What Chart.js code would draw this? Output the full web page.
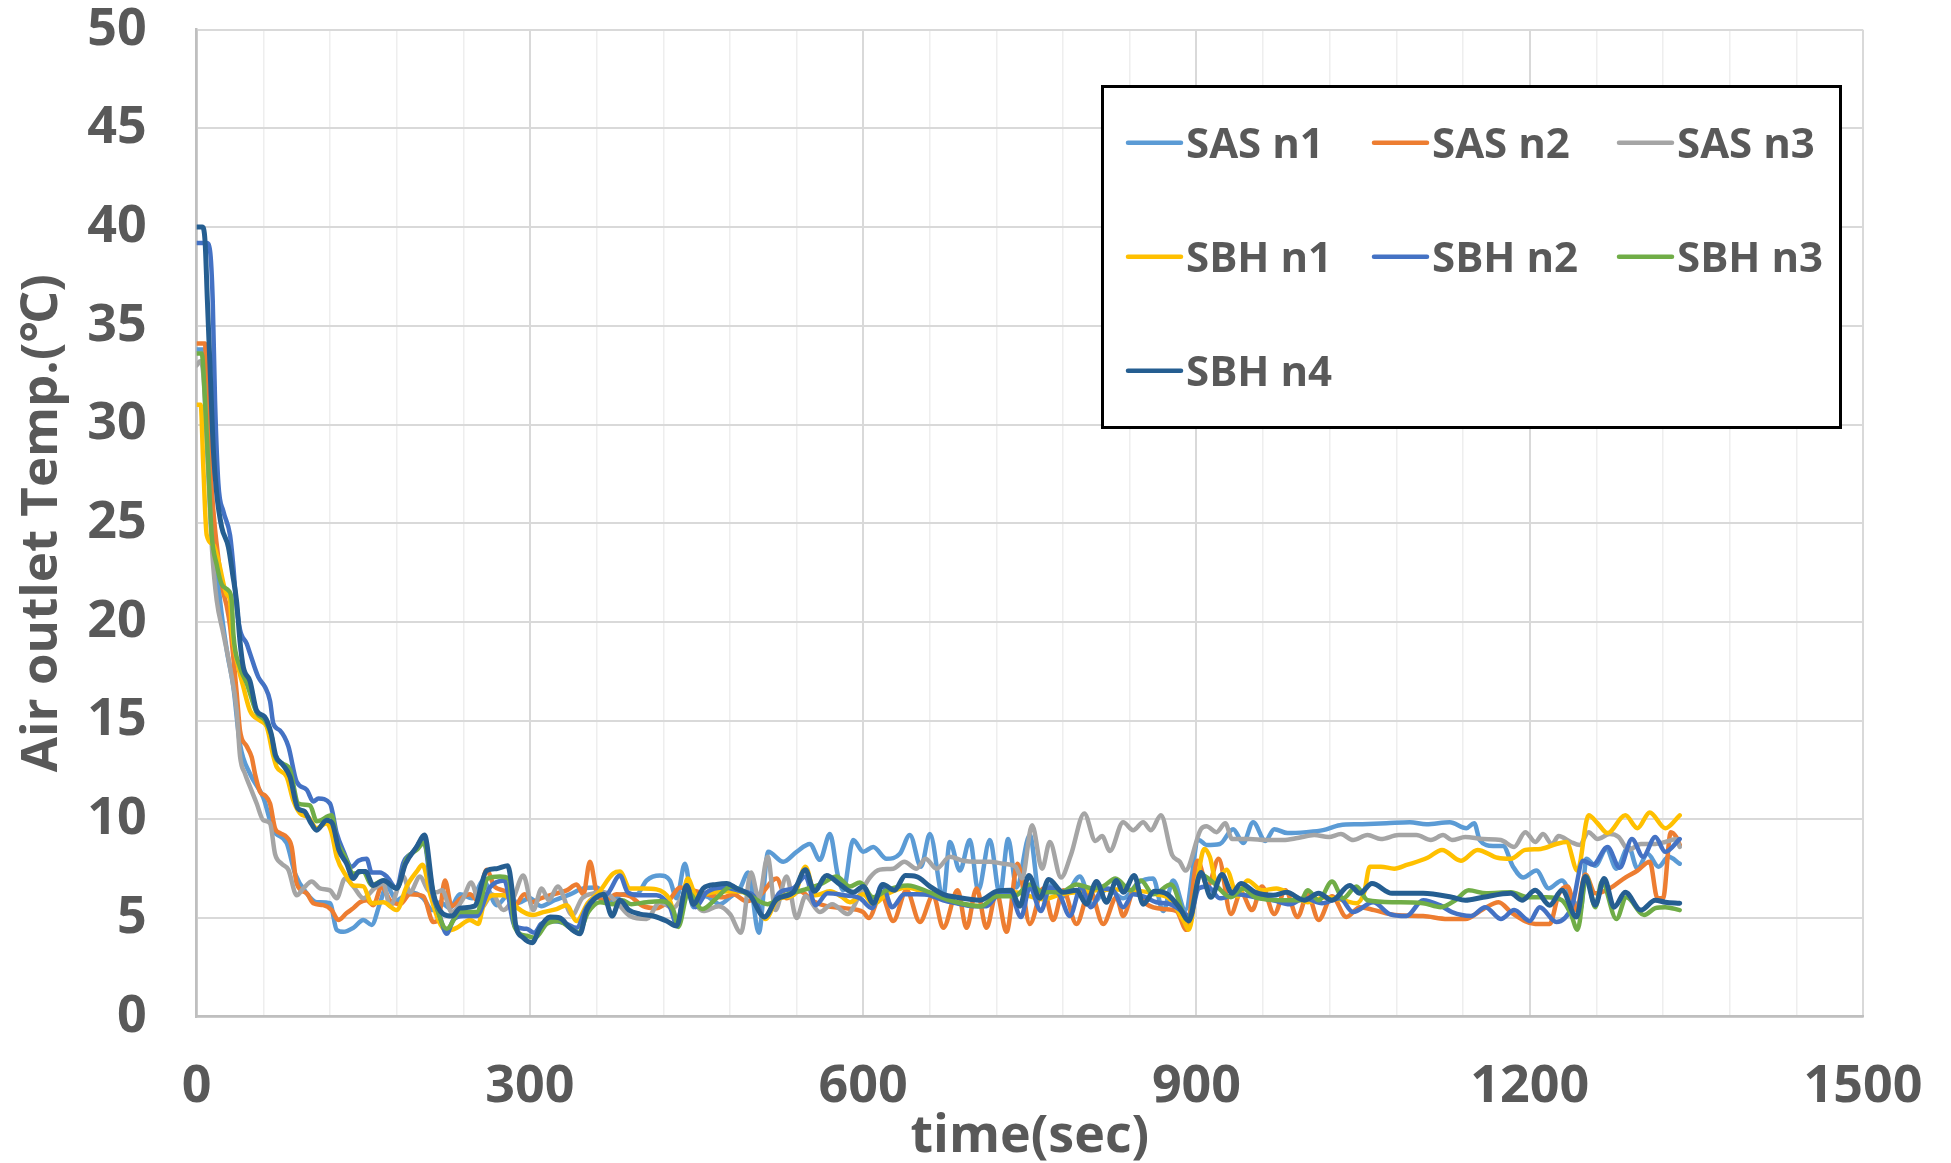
<!DOCTYPE html>
<html>
<head>
<meta charset="utf-8">
<script src="https://cdn.jsdelivr.net/npm/chart.js@4.4.1/dist/chart.umd.min.js"></script>
<style>
  html, body { margin: 0; padding: 0; background: #ffffff; }
  #wrap { width: 1951px; height: 1163px; position: relative; }
</style>
</head>
<body>
<div id="wrap"><canvas id="c" width="1951" height="1163"></canvas></div>
<script>
// ---------------- DATA ----------------
const seriesNames = ['SAS n1', 'SAS n2', 'SAS n3', 'SBH n1', 'SBH n2', 'SBH n3', 'SBH n4'];
const xTickLabels = [0, 300, 600, 900, 1200, 1500];
const yTickLabels = [0, 5, 10, 15, 20, 25, 30, 35, 40, 45, 50];

// [time (sec), temperature (°C)]
const sasN1 = [[0,33.8],[6,33.8],[9,31],[13,27],[17,23.5],[21,21.1],[27,18.6],[33,16.7],[39,13.8],[48,12.3],[60,11.1],[69,9.45],[81,8.8],[88.5,7.25],[99,6.25],[108,5.8],[120,5.75],[126,4.4],[132,4.3],[141,4.5],[150,4.9],[157.5,4.65],[165,5.75],[171,6.6],[180,5.9],[192,6.3],[204,6.0],[212,5.4],[219,5.8],[228,5.5],[237,6.2],[248,6.0],[258,6.9],[270,5.65],[282,6.25],[288,5.75],[300,6.0],[310,5.6],[322,5.9],[336,6.2],[348,6.5],[360,6.55],[372,5.9],[384,6.2],[396,6.2],[405,6.9],[417,7.15],[426,6.9],[432,6.0],[439.5,7.75],[447,5.55],[458,6.1],[471,5.7],[480,6.05],[489,6.5],[496.5,7.3],[506,4.25],[514.5,8.35],[528,7.85],[540,8.35],[552,8.75],[561,7.95],[570,9.25],[577,7.2],[582,6.4],[591,8.95],[600,8.35],[609,8.6],[621,8.0],[633,8.25],[642,9.2],[652,7.6],[660,9.25],[672,6.05],[678,8.85],[687,7.4],[696,8.95],[703.5,6.4],[714,8.95],[723,6.2],[730.5,9.0],[738,6.55],[750,9.2],[759,6.05],[770,6.7],[781,6.1],[795,7.1],[806,5.7],[820,6.5],[834,6.0],[848,6.8],[861,7.0],[870,5.35],[879,6.9],[890,5.4],[902,8.95],[909,8.7],[921,8.75],[933,9.5],[942,8.8],[951,9.85],[962,8.9],[970,9.5],[982,9.3],[999,9.35],[1014,9.45],[1029,9.7],[1047,9.75],[1071,9.8],[1092,9.85],[1107,9.75],[1128,9.85],[1143,9.55],[1150,9.8],[1155,8.95],[1167,8.65],[1176,8.65],[1185,7.6],[1194,7.05],[1206,7.4],[1217,6.5],[1229,6.9],[1239,5.9],[1246,5.5],[1251,8.0],[1259,7.65],[1269,8.5],[1278,7.5],[1289,8.6],[1297,7.5],[1306,8.25],[1316,7.6],[1325,8.1],[1335,7.75]];

const sasN2 = [[0,34.1],[7.5,34.1],[9,32],[12,28],[16,25],[20,23],[24,21.5],[27,20.8],[30,19.8],[36,16.4],[39,14.5],[45,13.7],[49.5,13.15],[52.5,12.3],[57,11.4],[61.5,11.2],[66,10.8],[70.5,9.55],[75,9.3],[81,9.1],[85.5,8.6],[90,6.75],[99,6.25],[105,5.75],[114,5.65],[121.5,5.4],[127.5,4.9],[135,5.25],[141,5.5],[147,5.8],[153,5.9],[159,5.65],[166.5,6.6],[174,5.9],[183,5.7],[192,6.2],[204,6.1],[213,4.8],[217.5,4.9],[223.5,6.9],[229.5,5.6],[238,6.0],[246,6.2],[253,5.9],[261,7.45],[268,6.6],[279,6.3],[286,5.6],[295,6.2],[302,5.8],[310,6.0],[321,6.2],[333,6.4],[342,6.7],[348,6.2],[354,7.85],[360,6.3],[368,5.9],[378,6.2],[390,6.1],[402,5.6],[414,5.5],[426,5.95],[435,6.55],[447,6.4],[459,6.2],[474,6.05],[483,6.2],[495,5.85],[507,6.15],[522,7.0],[531,6.0],[543,6.35],[555,5.85],[567,5.6],[583,5.5],[600,5.3],[605,5.0],[616,6.2],[627,4.85],[639,6.4],[651,4.8],[663,6.15],[672,4.5],[685,6.4],[693,4.5],[702,6.5],[711,4.5],[720,6.3],[729,4.3],[739,7.75],[750,4.7],[762,6.5],[771,4.9],[780,6.4],[792,4.7],[804,6.4],[816,4.7],[828,6.05],[834,5.1],[844,6.4],[855,5.7],[870,5.45],[882,5.35],[891,4.4],[901,7.9],[910,6.6],[920,8.0],[931,5.2],[940,6.3],[950,5.4],[959,6.6],[970,5.2],[980,6.4],[991,5.05],[1000,6.2],[1010,4.9],[1022,6.1],[1035,5.05],[1047,5.55],[1060,5.4],[1079,5.15],[1104,5.1],[1126,4.95],[1142,4.95],[1158,5.45],[1172,5.8],[1184,5.25],[1205,4.7],[1218,4.7],[1226,6.2],[1234,6.6],[1242,5.4],[1250,7.2],[1259,6.25],[1272,6.5],[1286,7.05],[1297,7.4],[1308,7.85],[1315,6.0],[1320,6.0],[1327,9.35],[1332,9.1],[1335,8.7]];

const sasN3 = [[0,33.0],[3,33.2],[6,32.5],[10,28],[14,23.5],[18,21.1],[24,19.4],[30,17.7],[36,15.5],[39,13.2],[43.5,12.3],[48,11.65],[54,10.8],[60,9.95],[66,9.8],[70.5,8.25],[76.5,7.75],[82.5,7.45],[90,6.15],[96,6.5],[103.5,6.85],[111,6.5],[120,6.4],[126,6.0],[133.5,7.0],[141,6.6],[150,6.0],[160,6.5],[168,6.75],[174,5.6],[186,7.1],[192,6.3],[201,7.1],[208.5,6.4],[216,6.3],[221,6.4],[229.5,5.3],[240,6.0],[247,6.8],[256,5.5],[266,6.2],[276,5.4],[285,6.0],[294,7.15],[303,5.4],[310.5,6.5],[317,5.9],[325,6.6],[338,5.15],[347,6.0],[357,6.25],[367,6.3],[378,5.8],[390,5.1],[405,4.95],[417,5.8],[429,5.5],[440,6.2],[456,5.35],[470,5.6],[480,5.2],[490,4.25],[499,7.3],[506,6.0],[514,8.1],[521,5.4],[531,7.1],[540,5.0],[548,6.1],[561,5.3],[572,5.7],[586,5.2],[597,6.2],[606,7.05],[615,7.45],[627,7.5],[637,7.85],[648,7.5],[656,8.0],[666,7.5],[678,8.1],[690,7.9],[702,7.85],[714,7.85],[726,7.75],[737,7.6],[743,7.0],[752,9.7],[761,7.5],[768,8.85],[778,7.05],[787,8.2],[799,10.3],[809,8.9],[815,9.15],[822,8.4],[834,9.85],[843,9.45],[852,9.85],[859,9.45],[868,10.2],[878,8.2],[885,7.85],[890,7.4],[904,9.5],[909,9.65],[918,9.35],[926,9.8],[932,9.0],[948,9.0],[962,8.95],[978,8.95],[991,9.05],[1006,9.2],[1019,9.1],[1030,9.25],[1041,8.95],[1054,9.2],[1066,9.0],[1082,9.2],[1098,9.2],[1111,8.95],[1122,9.2],[1130,8.95],[1142,9.1],[1158,9.0],[1174,8.95],[1186,8.6],[1196,9.35],[1205,8.85],[1212,9.25],[1220,8.75],[1226,9.15],[1237,8.85],[1245,8.7],[1253,9.35],[1261,9.0],[1272,9.25],[1280,9.1],[1289,8.45],[1300,8.75],[1313,8.75],[1322,8.85],[1332,9.0],[1335,8.6]];

const sbhN1 = [[0,31],[3.6,31],[6,27.8],[9,24.4],[15,23.9],[19.5,23.1],[27,21.4],[30,21.1],[31.5,19.7],[37.5,17.7],[42,16.7],[48,15.5],[57,15.0],[63,14.7],[69,13.2],[72,12.65],[81,12.15],[87,10.95],[93,10.3],[100.5,10.1],[108,9.55],[117,9.8],[121.5,9.3],[126,8.1],[135,7.1],[141,6.65],[150,6.6],[157.5,5.75],[168,5.8],[180,5.4],[189,6.6],[198,7.35],[203.4,7.7],[210,6.25],[217.5,4.9],[225,4.35],[234,4.5],[246,4.9],[253.5,4.7],[258,5.6],[267,6.15],[276,6.15],[282,5.95],[289,5.5],[303,5.15],[312,5.3],[324,5.45],[333,5.65],[342,4.85],[352,5.75],[362,6.3],[375,7.25],[381,7.35],[390,6.5],[402,6.5],[414,6.45],[425,6.0],[433,4.85],[442,7.0],[450,6.1],[465,6.3],[482,6.35],[500,6.15],[512,4.95],[523,5.95],[538,6.2],[548,7.6],[557,6.15],[570,6.35],[580,6.1],[588,5.8],[600,6.2],[609,5.7],[621,6.2],[639,6.55],[660,6.2],[690,5.7],[708,5.6],[720,6.2],[736,6.3],[762,5.95],[778,6.2],[810,6.4],[828,6.45],[846,6.4],[864,6.2],[876,5.95],[889,4.8],[893,4.4],[901,7.0],[907,8.5],[912,8.1],[918,6.8],[927,7.45],[937,6.1],[946,6.9],[959,6.4],[972,6.5],[984,6.25],[1000,5.8],[1016,6.05],[1032,5.9],[1044,5.75],[1051,6.3],[1056,7.6],[1066,7.6],[1078,7.5],[1090,7.7],[1108,8.05],[1121,8.45],[1138,7.9],[1153,8.45],[1171,8.05],[1183,8.0],[1196,8.45],[1210,8.5],[1224,8.75],[1233,8.85],[1243,7.4],[1253,10.2],[1261,9.8],[1270,9.3],[1286,10.2],[1297,9.55],[1308,10.35],[1322,9.55],[1335,10.2]];

const sbhN2 = [[0,39.2],[9,39.2],[12,38.8],[14.4,36.3],[16.5,31.2],[19.5,27],[24,25.6],[30,24.4],[33,22.8],[35.4,21.1],[39,19.6],[45,18.9],[48,18.4],[55.5,17.2],[61.5,16.7],[66,16.0],[69,14.85],[75,14.5],[82.5,13.7],[90,11.9],[99,11.5],[105,10.9],[109.5,11.05],[120,10.8],[126,9.3],[132,8.4],[139.5,7.6],[145.5,7.9],[153,8.0],[157.5,7.3],[165,7.3],[171,7.1],[180,6.5],[186,7.8],[195,8.35],[204,9.0],[211.5,6.4],[219,5.06],[225,4.2],[231,4.9],[240,5.1],[252,5.1],[264,6.55],[277,6.9],[286,4.6],[297,4.45],[304,4.25],[310,4.7],[321,4.85],[333,4.7],[342,4.5],[351,5.55],[363,6.15],[369,6.2],[381,7.15],[388,6.3],[399,6.15],[414,6.15],[426,5.55],[432,4.7],[441,6.65],[449,5.55],[459,6.3],[475,6.55],[490,6.35],[501,6.15],[511,5.05],[525,6.3],[537,6.5],[548,7.1],[557,5.65],[568,6.25],[583,6.15],[597,6.0],[608,5.5],[617,6.7],[626,5.55],[637,6.2],[648,6.2],[660,6.15],[672,5.9],[684,5.75],[699,5.6],[711,5.6],[720,6.1],[732,6.3],[742,5.05],[750,6.55],[760,5.35],[768,6.55],[777,6.15],[786,5.1],[796,6.55],[805,5.55],[816,6.5],[825,6.4],[834,5.55],[843,6.2],[852,6.1],[864,5.8],[876,5.7],[888,5.3],[894,5.05],[902,6.5],[910,6.6],[921,6.0],[937,6.2],[953,6.05],[969,5.9],[984,5.7],[997,6.0],[1013,5.75],[1029,6.0],[1041,5.3],[1059,5.8],[1074,5.2],[1089,5.1],[1104,5.9],[1119,5.65],[1130,5.3],[1147,5.1],[1160,5.55],[1174,4.95],[1186,5.4],[1200,4.85],[1209,5.55],[1224,4.8],[1238,5.6],[1248,7.9],[1257,7.7],[1270,8.6],[1281,7.55],[1292,9.0],[1302,8.1],[1313,9.1],[1322,8.35],[1335,9.0]];

const sbhN3 = [[0,33.6],[4.5,33.6],[7.5,31.2],[10.5,27.8],[13.5,24.4],[18,22.9],[22.5,21.9],[28.5,21.6],[31.5,21.1],[33,19.4],[39,17.7],[45,16.9],[54,15.4],[61.5,15.0],[67.5,14.2],[70.5,13.2],[78,12.8],[84,12.5],[91.5,10.8],[102,10.7],[108,9.9],[121.5,10.2],[126,8.95],[133.5,8.1],[141,7.25],[150,7.35],[157.5,6.65],[168,6.9],[180,6.5],[189,8.0],[198,8.45],[204.6,8.8],[213,6.25],[225,4.45],[237,5.3],[252,5.3],[262,7.0],[273,7.1],[280.5,7.0],[286.5,4.5],[297,4.1],[304.5,4.0],[315,4.7],[325.5,4.85],[336,4.5],[343.5,4.25],[352.5,5.3],[363,5.8],[375,5.7],[383,5.9],[391,5.7],[405,5.8],[417,5.85],[429,5.4],[433.5,4.55],[442.5,6.3],[455,5.45],[467,5.95],[481,6.6],[496,6.2],[514,5.7],[527,6.1],[548,6.45],[563,6.75],[576,7.1],[588,6.6],[597,6.8],[609,6.05],[621,6.4],[640,6.65],[660,6.3],[675,5.95],[692,5.7],[706,5.6],[720,6.1],[736,6.1],[750,6.7],[762,6.3],[778,6.3],[792,6.7],[806,6.5],[816,6.6],[827,7.0],[841,6.4],[850,6.9],[861,6.2],[877,6.7],[892,4.9],[904,7.2],[915,6.8],[931,6.05],[942,6.5],[953,6.05],[978,5.9],[994,5.9],[1000,6.4],[1010,5.9],[1022,6.85],[1032,6.0],[1044,6.6],[1054,5.9],[1079,5.8],[1104,5.75],[1120,5.55],[1133,5.9],[1145,6.4],[1161,6.25],[1183,6.3],[1199,6.05],[1215,6.05],[1229,5.9],[1237,5.2],[1243,4.4],[1251,7.1],[1259,5.55],[1265,6.85],[1278,4.95],[1287,6.05],[1303,5.15],[1313,5.5],[1322,5.55],[1335,5.4]];

const sbhN4 = [[0,40],[5,40],[7.5,39.3],[9.6,36.3],[12,32.9],[15,28.7],[18,26.5],[22.5,24.8],[28.5,23.8],[32.4,22.4],[36,21],[39,19],[42,17.7],[48,17.0],[54,15.5],[61,15.2],[67,14.35],[71,13.25],[77,12.8],[84,12.15],[91,10.55],[97,10.4],[102,9.9],[108,9.45],[117,9.95],[122,9.8],[128,8.45],[135,7.75],[141,7.0],[146,7.35],[152,7.35],[159,6.65],[168,6.9],[180,6.5],[188,7.75],[198,8.6],[205,9.2],[213,6.25],[222,5.2],[230,5.1],[237,5.5],[250,5.6],[261,7.4],[270,7.5],[280,7.65],[284,6.4],[287,4.7],[294,4.0],[302,3.75],[309,4.5],[318,5.05],[327,5.0],[336,4.5],[345,4.2],[351,5.4],[360,6.05],[366,6.2],[374,5.1],[381,5.9],[389,5.4],[399,5.2],[411,5.1],[423,4.85],[432,4.6],[441,6.65],[447,5.7],[456,6.5],[468,6.7],[477,6.75],[486,6.5],[498,6.15],[511,5.05],[522,5.95],[537,6.3],[548,7.45],[556,6.35],[567,7.15],[579,6.7],[591,6.3],[600,6.6],[609,5.75],[618,6.7],[628,6.4],[638,7.15],[648,7.1],[660,6.6],[672,6.2],[684,6.05],[705,5.9],[720,6.35],[733,6.4],[741,5.6],[749,7.15],[759,6.0],[767,6.95],[780,6.3],[792,6.4],[801,5.7],[810,6.85],[819,5.8],[828,6.9],[834,6.3],[844,7.15],[852,5.7],[862,6.35],[874,6.2],[885,5.5],[893,4.85],[904,7.3],[913,6.05],[923,7.2],[932,6.25],[940,6.75],[953,6.3],[969,6.15],[981,6.3],[997,5.9],[1010,6.25],[1022,5.9],[1038,6.65],[1047,6.25],[1058,6.75],[1076,6.25],[1104,6.25],[1130,6.05],[1142,5.9],[1158,6.05],[1183,6.25],[1193,5.9],[1205,6.4],[1218,5.65],[1229,6.4],[1242,5.05],[1250,7.1],[1259,5.65],[1267,7.0],[1276,5.55],[1286,6.3],[1300,5.4],[1313,5.9],[1322,5.8],[1335,5.75]];

const seriesData = [sasN1, sasN2, sasN3, sbhN1, sbhN2, sbhN3, sbhN4];

// ---------------- STYLE ----------------
const seriesColors = ['#5b9bd5', '#ed7d31', '#a5a5a5', '#ffc000', '#4472c4', '#70ad47', '#255e91'];
const FONT = "'Open Sans', 'Noto Sans', 'Noto Sans CJK JP', sans-serif";
const TEXT = '#595959';

const overlay = {
  id: 'overlay',
  afterDraw(chart) {
    const ctx = chart.ctx;
    const area = chart.chartArea;
    ctx.save();
    // legend box
    const bx = 1102, by = 86, bw = 738, bh = 341;
    ctx.fillStyle = '#ffffff';
    ctx.fillRect(bx, by, bw, bh);
    ctx.lineWidth = 3;
    ctx.strokeStyle = '#000000';
    ctx.strokeRect(bx + 0.5, by + 0.5, bw, bh);
    const colX = [1128, 1374, 1619];
    const rowY = [142.7, 256.7, 370.7];
    ctx.font = 'bold 42px ' + FONT;
    ctx.textBaseline = 'alphabetic';
    ctx.textAlign = 'left';
    seriesNames.forEach((name, i) => {
      const c = i % 3, r = Math.floor(i / 3);
      const x = colX[c], y = rowY[r];
      ctx.strokeStyle = seriesColors[i];
      ctx.lineWidth = 4.5;
      ctx.lineCap = 'round';
      ctx.beginPath();
      ctx.moveTo(x, y);
      ctx.lineTo(x + 53, y);
      ctx.stroke();
      ctx.fillStyle = TEXT;
      ctx.fillText(name, x + 58, y + 15);
    });
    // x axis title
    ctx.fillStyle = TEXT;
    ctx.font = 'bold 52px ' + FONT;
    ctx.textAlign = 'center';
    ctx.fillText('time(sec)', (area.left + area.right) / 2, 1152);
    // y axis title
    ctx.save();
    ctx.translate(57, (area.top + area.bottom) / 2);
    ctx.rotate(-Math.PI / 2);
    ctx.font = 'bold 51px ' + FONT;
    ctx.textAlign = 'center';
    ctx.fillText('Air outlet Temp.(℃)', 0, 0);
    ctx.restore();
    ctx.restore();
  }
};

const datasets = seriesData.map((s, i) => ({
  label: seriesNames[i],
  data: s.map(p => ({ x: p[0], y: p[1] })),
  borderColor: seriesColors[i],
  backgroundColor: seriesColors[i],
  borderWidth: i === 6 ? 5 : 4.5,
  pointRadius: 0,
  pointHoverRadius: 0,
  fill: false,
  cubicInterpolationMode: 'monotone',
  borderCapStyle: 'round',
  borderJoinStyle: 'round',
  order: 6 - i
}));

new Chart(document.getElementById('c'), {
  type: 'line',
  data: { datasets },
  options: {
    responsive: false,
    animation: false,
    devicePixelRatio: 1,
    layout: { padding: { top: 29.7, right: 88, left: 0, bottom: 0 } },
    plugins: {
      legend: { display: false },
      tooltip: { enabled: false },
      title: { display: false }
    },
    scales: {
      x: {
        type: 'linear',
        min: 0,
        max: 1500,
        ticks: {
          stepSize: 60,
          autoSkip: false,
          maxRotation: 0,
          minRotation: 0,
          padding: 42,
          color: TEXT,
          font: { family: FONT, size: 52, weight: 'bold', lineHeight: 1.1 },
          callback: (v) => xTickLabels.includes(v) ? String(v) : ''
        },
        grid: {
          drawTicks: false,
          color: (c) => (c.tick && c.tick.value % 300 === 0) ? '#d9d9d9' : '#eeeeee',
          lineWidth: (c) => (c.tick && c.tick.value % 300 === 0) ? 2 : 1.5
        },
        border: { display: true, color: '#bfbfbf', width: 2.5 },
        afterFit: (s) => { s.height = 146.3; s.paddingLeft = 0; s.paddingRight = 0; }
      },
      y: {
        min: 0,
        max: 50,
        ticks: {
          stepSize: 5,
          padding: 50,
          color: TEXT,
          font: { family: FONT, size: 52, weight: 'bold', lineHeight: 1.1 },
          callback: (v) => yTickLabels.includes(v) ? String(v) : ''
        },
        grid: { drawTicks: false, color: '#d9d9d9', lineWidth: 2 },
        border: { display: true, color: '#bfbfbf', width: 2.5 },
        afterFit: (s) => { s.width = 196.7; s.paddingTop = 0; s.paddingBottom = 0; }
      }
    }
  },
  plugins: [overlay]
});
</script>
</body>
</html>
